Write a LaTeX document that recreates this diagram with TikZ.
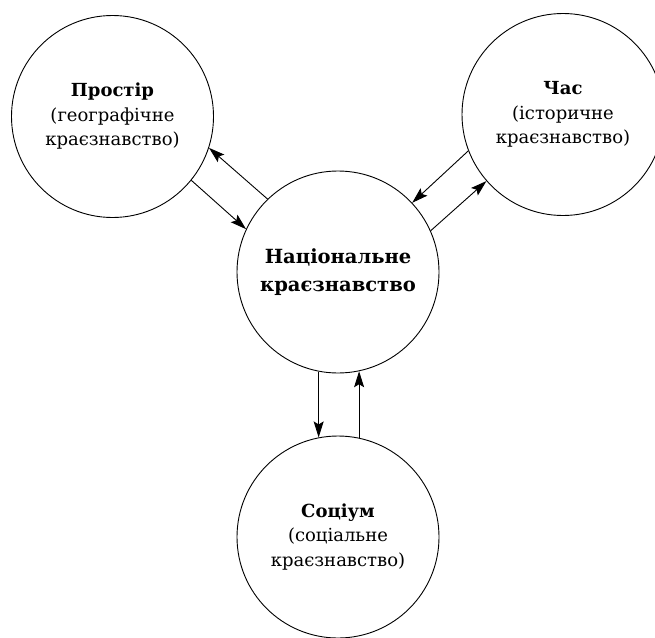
\documentclass[tikz,border=0pt]{standalone}
\usepackage{fontspec}
\setmainfont{DejaVu Serif}
\usetikzlibrary{arrows.meta}
\tikzset{
  bubble/.style={circle, draw, line width=0.9pt, minimum size=202pt, inner sep=0pt, align=center,
    font=\fontsize{18}{24.5}\selectfont},
  hub/.style={bubble, font=\fontsize{19.5}{28}\selectfont\bfseries},
  link/.style={line width=0.9pt, -{Stealth[length=16pt,width=10pt,inset=3pt]}}
}
\begin{document}
\begin{tikzpicture}[x=1pt,y=-1pt]
\useasboundingbox (0,0) rectangle (655,637);
\clip (0,0) rectangle (655,637);
\node[bubble] (space) at (112.5,116.5) {\textbf{Простір}\\(географічне\\краєзнавство)};
\node[bubble] (time) at (563,114.5) {\textbf{Час}\\(історичне\\краєзнавство)};
\node[hub] (nat) at (338,272) {Національне\\краєзнавство};
\node[bubble] (soc) at (338,537) {\textbf{Соціум}\\(соціальне\\краєзнавство)};
\draw[link] (nat.134.6) -- (space.-18.6);
\draw[link] (space.-39.5) -- (nat.155.2);
\draw[link] (time.201.3) -- (nat.43.4);
\draw[link] (nat.24.1) -- (time.221.3);
\draw[link] (nat.-101.4) -- (soc.101.4);
\draw[link] (soc.78) -- (nat.-78);
\end{tikzpicture}
\end{document}
